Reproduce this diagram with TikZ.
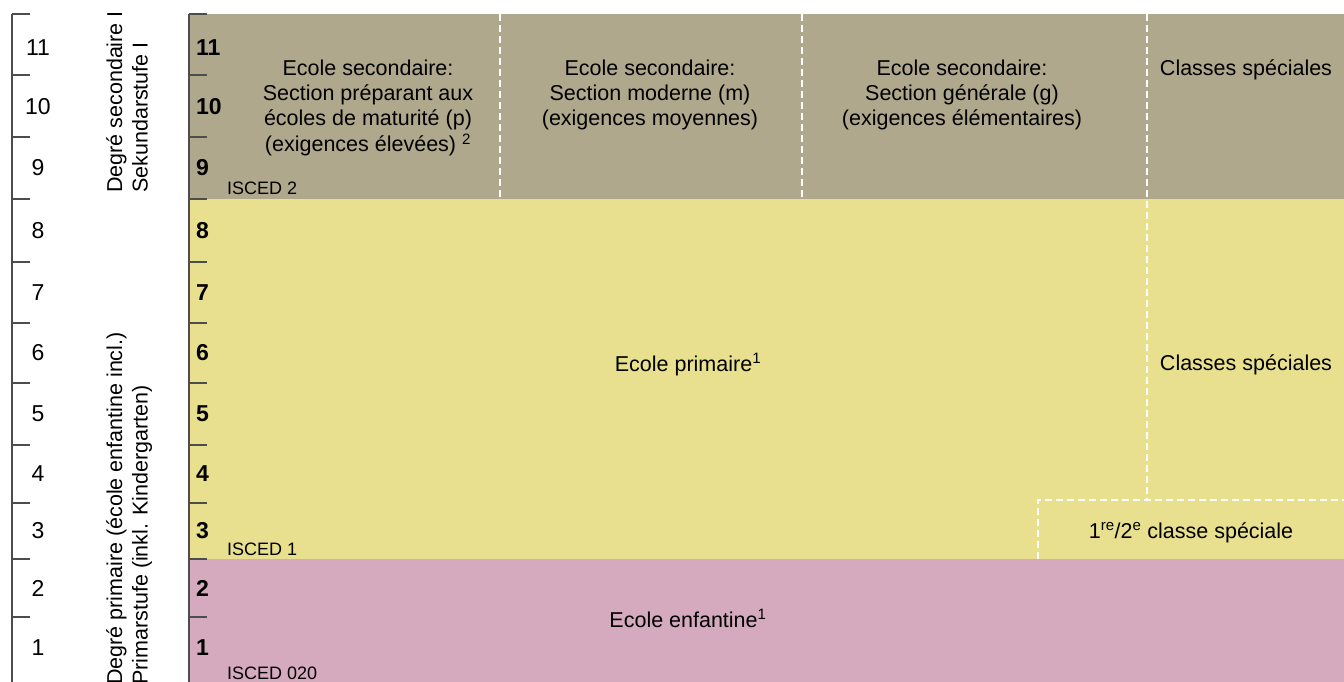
\documentclass[tikz,border=0pt]{standalone}
\usepackage{fontspec}
\setmainfont{Liberation Sans}
\definecolor{secc}{HTML}{B0A88C}
\definecolor{pric}{HTML}{E8E08E}
\definecolor{kgc}{HTML}{D5AABE}
\definecolor{tickc}{HTML}{4D4D4D}
\newcommand\mlines[1]{\begin{tabular}[t]{@{}c@{}}#1\end{tabular}}
\newcommand\mlinesl[1]{\begin{tabular}[t]{@{}l@{}}#1\end{tabular}}
\begin{document}
\begin{tikzpicture}[x=1pt,y=-1pt,
  txt/.style={font=\fontsize{21.5}{25}\selectfont, inner sep=0pt, text=black, anchor=base},
  rottxt/.style={font=\fontsize{21.5}{25.5}\selectfont, inner sep=0pt, text=black, rotate=90, anchor=base west},
  isced/.style={font=\fontsize{18}{21}\selectfont, inner sep=0pt, text=black, anchor=base west},
  lnum/.style={font=\fontsize{23}{27}\selectfont, inner sep=0pt, text=black, anchor=center},
  bnum/.style={font=\fontsize{23}{27}\selectfont\bfseries, inner sep=0pt, text=black, anchor=west},
  wdash/.style={draw=white, line width=1.6pt, dash pattern=on 7pt off 4pt},
  axis/.style={draw=tickc, line width=1.6pt},
  tickl/.style={draw=tickc, line width=1.3pt}]
\useasboundingbox (0,0) rectangle (1344,682);
\fill[white] (0,0) rectangle (1344,682);
% bands
\fill[secc] (189,14) rectangle (1344,199);
\fill[pric] (189,199) rectangle (1344,559);
\fill[kgc] (189,559) rectangle (1344,682);
% dashed separators
\coordinate (d1t) at (500,14);  \coordinate (d1b) at (500,199);
\coordinate (d2t) at (802,14);  \coordinate (d2b) at (802,199);
\coordinate (d3t) at (1147,14); \coordinate (d3b) at (1147,500);
\coordinate (bxl) at (1038,500); \coordinate (bxr) at (1344,500);
\coordinate (bxb) at (1038,559);
\draw[wdash] (d1t) -- (d1b);
\draw[wdash] (d2t) -- (d2b);
\draw[wdash] (d3t) -- (d3b);
\draw[wdash] (bxb) -- (bxl) -- (bxr);
% axes
\coordinate (ax1t) at (12,14); \coordinate (ax1b) at (12,682);
\coordinate (ax2t) at (189,14); \coordinate (ax2b) at (189,682);
\draw[axis] (ax1t) -- (ax1b);
\draw[axis] (ax2t) -- (ax2b);
\foreach \yy in {14,75,137,199,262,323,383,445,503,559,617}{
  \draw[tickl] (12,\yy) -- (30,\yy);
  \draw[tickl] (189,\yy) -- (207,\yy);
}
% grade numbers
\foreach \n/\c in {11/48,10/107,9/168,8/230.5,7/292.5,6/353,5/414,4/474,3/531,2/588,1/647.5}{
  \node[lnum] (l\n) at (38,\c) {\n};
  \node[bnum] (g\n) at (196,\c) {\n};
}
% rotated stage labels
\node[rottxt] (stage2) at (122,193) {\mlinesl{Degré secondaire I\\Sekundarstufe I}};
\node[rottxt] (stage1) at (122,685) {\mlinesl{Degré primaire (école enfantine incl.)\\Primarstufe (inkl. Kindergarten)}};
% secondary
\node[txt] (secp) at (368,76) {\mlines{Ecole secondaire:\\Section préparant aux\\écoles de maturité (p)\\(exigences élevées) \textsuperscript{2}}};
\node[txt] (secm) at (650,76) {\mlines{Ecole secondaire:\\Section moderne (m)\\(exigences moyennes)}};
\node[txt] (secg) at (962,76) {\mlines{Ecole secondaire:\\Section générale (g)\\(exigences élémentaires)}};
\node[txt] (secs) at (1246,76) {Classes spéciales};
% primary
\node[txt] (prim) at (688,371) {Ecole primaire\textsuperscript{1}};
\node[txt] (pris) at (1246,370) {Classes spéciales};
\node[txt] (pri12) at (1191,538) {1\textsuperscript{re}/2\textsuperscript{e} classe spéciale};
% kindergarten
\node[txt] (kg) at (688,627) {Ecole enfantine\textsuperscript{1}};
% ISCED
\node[isced] (is2) at (227,194) {ISCED 2};
\node[isced] (is1) at (227,555) {ISCED 1};
\node[isced] (is0) at (227,679) {ISCED 020};
\end{tikzpicture}
\end{document}
